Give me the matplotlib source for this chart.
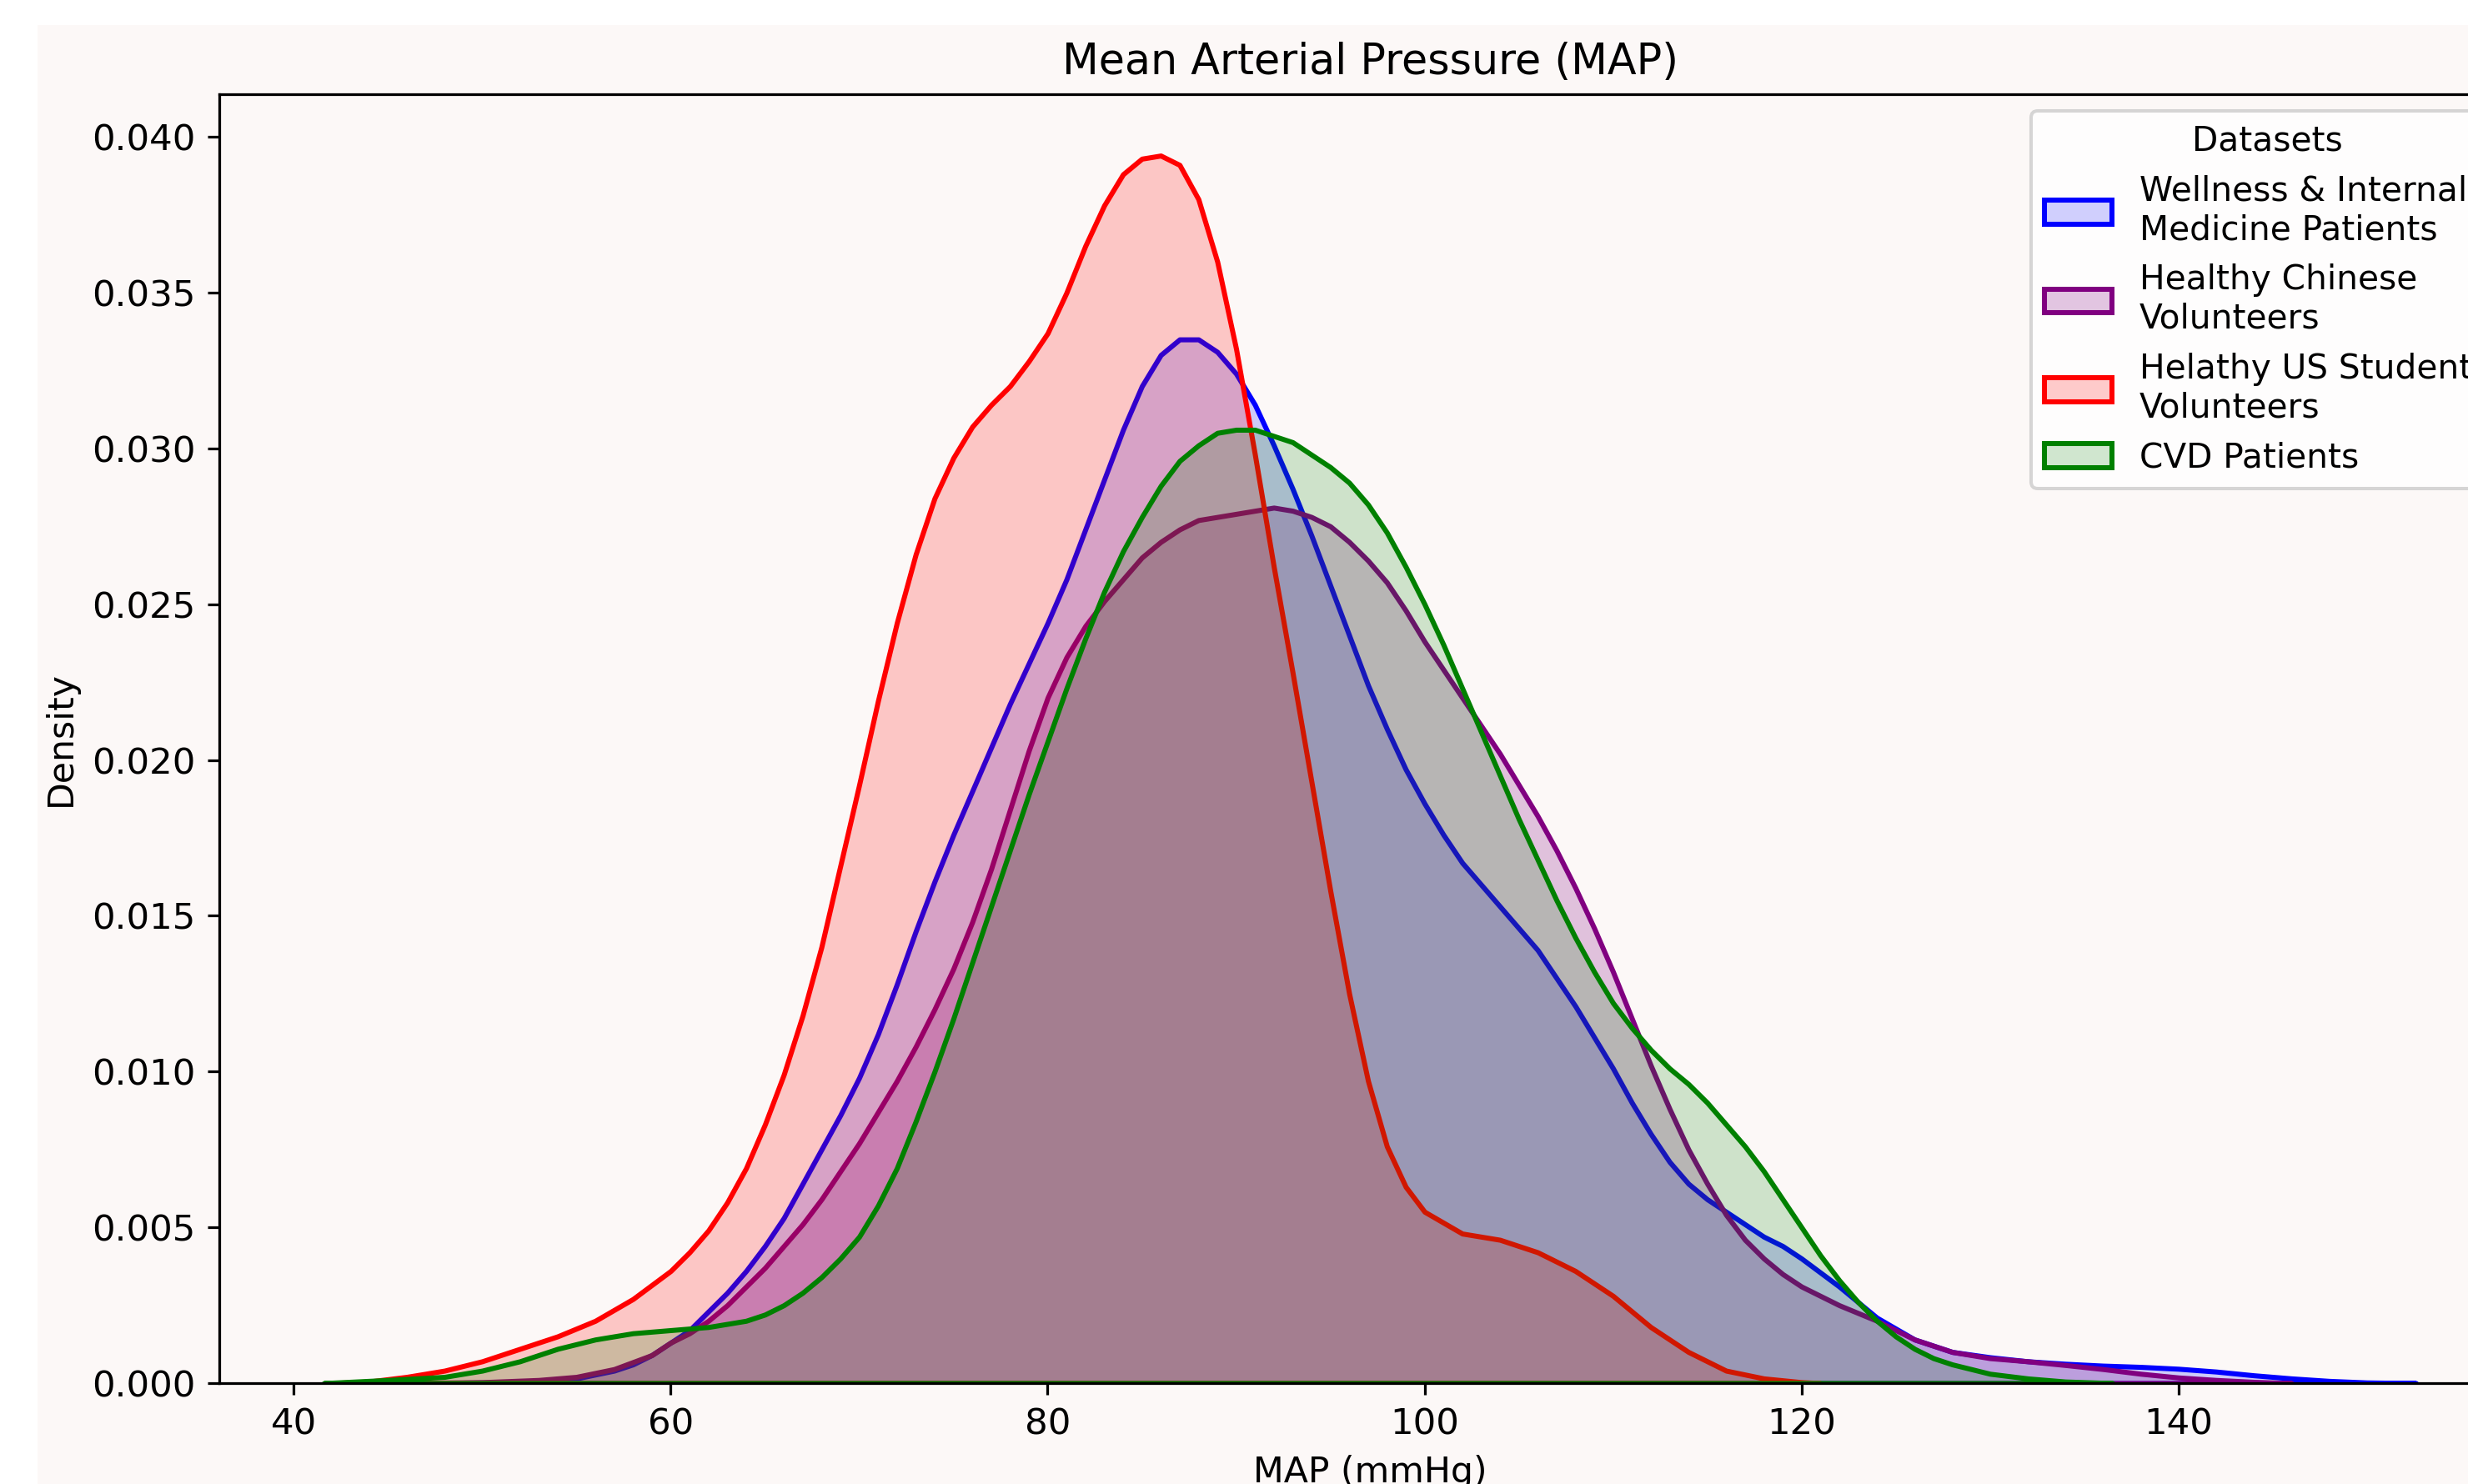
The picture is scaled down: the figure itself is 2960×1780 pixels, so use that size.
import matplotlib
matplotlib.use("Agg")
import matplotlib.pyplot as plt
from matplotlib.patches import Patch, Rectangle
from matplotlib.colors import to_rgba

# density curves (MAP in mmHg, density)
wellness_x = [47, 50, 53, 55, 57, 58, 59, 60, 61, 62, 63, 64, 65, 66, 67, 68, 69, 70, 71, 72, 73, 74, 75,
              76, 77, 78, 79, 80, 81, 82, 83, 84, 85, 86, 87, 88, 89, 90, 91, 92, 93, 94, 95, 96, 97, 98,
              99, 100, 101, 102, 103, 104, 105, 106, 107, 108, 109, 110, 111, 112, 113, 114, 115, 116,
              117, 118, 119, 120, 122, 124, 126, 128, 130, 132, 134, 136, 138, 140, 142, 144, 146, 148,
              150, 152.6]
wellness_y = [0, 0.00002, 0.00006, 0.00015, 0.0004, 0.0006, 0.0009, 0.0013, 0.0017, 0.0023, 0.0029,
              0.0036, 0.0044, 0.0053, 0.0064, 0.0075, 0.0086, 0.0098, 0.0112, 0.0128, 0.0145, 0.0161,
              0.0176, 0.019, 0.0204, 0.0218, 0.0231, 0.0244, 0.0258, 0.0274, 0.029, 0.0306, 0.032,
              0.033, 0.0335, 0.0335, 0.0331, 0.0324, 0.0314, 0.0301, 0.0287, 0.0272, 0.0256, 0.024,
              0.0224, 0.021, 0.0197, 0.0186, 0.0176, 0.0167, 0.016, 0.0153, 0.0146, 0.0139, 0.013,
              0.0121, 0.0111, 0.0101, 0.009, 0.008, 0.0071, 0.0064, 0.0059, 0.0055, 0.0051, 0.0047,
              0.0044, 0.004, 0.0031, 0.0021, 0.0014, 0.001, 0.00083, 0.0007, 0.00062, 0.00056, 0.00052,
              0.00046, 0.00037, 0.00025, 0.00015, 0.00007, 0.00002, 0]

chinese_x = [44, 47, 50, 53, 55, 57, 59, 60, 61, 62, 63, 64, 65, 66, 67, 68, 69, 70, 71, 72, 73, 74, 75,
             76, 77, 78, 79, 80, 81, 82, 83, 84, 85, 86, 87, 88, 89, 90, 91, 92, 93, 94, 95, 96, 97, 98,
             99, 100, 101, 102, 103, 104, 105, 106, 107, 108, 109, 110, 111, 112, 113, 114, 115, 116,
             117, 118, 119, 120, 122, 124, 126, 128, 130, 132, 134, 136, 138, 140, 142, 144, 146]
chinese_y = [0, 0.00001, 0.00003, 0.0001, 0.0002, 0.00045, 0.0009, 0.0013, 0.0016, 0.002, 0.0025,
             0.0031, 0.0037, 0.0044, 0.0051, 0.0059, 0.0068, 0.0077, 0.0087, 0.0097, 0.0108, 0.012,
             0.0133, 0.0148, 0.0165, 0.0184, 0.0203, 0.022, 0.0233, 0.0243, 0.0251, 0.0258, 0.0265,
             0.027, 0.0274, 0.0277, 0.0278, 0.0279, 0.028, 0.0281, 0.028, 0.0278, 0.0275, 0.027,
             0.0264, 0.0257, 0.0248, 0.0238, 0.0229, 0.022, 0.0211, 0.0202, 0.0192, 0.0182, 0.0171,
             0.0159, 0.0146, 0.0132, 0.0117, 0.0102, 0.0088, 0.0075, 0.0064, 0.0054, 0.0046, 0.004,
             0.0035, 0.0031, 0.0025, 0.002, 0.0014, 0.001, 0.0008, 0.0007, 0.00058, 0.00045, 0.0003,
             0.00018, 0.0001, 0.00004, 0]

us_x = [42, 44, 46, 48, 50, 52, 54, 56, 58, 60, 61, 62, 63, 64, 65, 66, 67, 68, 69, 70, 71, 72, 73, 74,
        75, 76, 77, 78, 79, 80, 81, 82, 83, 84, 85, 86, 87, 88, 89, 90, 91, 92, 93, 94, 95, 96, 97, 98,
        99, 100, 102, 104, 106, 108, 110, 112, 114, 116, 118, 120, 121]
us_y = [0, 0.00005, 0.0002, 0.0004, 0.0007, 0.0011, 0.0015, 0.002, 0.0027, 0.0036, 0.0042, 0.0049,
        0.0058, 0.0069, 0.0083, 0.0099, 0.0118, 0.014, 0.0166, 0.0192, 0.0219, 0.0244, 0.0266, 0.0284,
        0.0297, 0.0307, 0.0314, 0.032, 0.0328, 0.0337, 0.035, 0.0365, 0.0378, 0.0388, 0.0393, 0.0394,
        0.0391, 0.038, 0.036, 0.0332, 0.0298, 0.0262, 0.0228, 0.0193, 0.0158, 0.0125, 0.0097, 0.0076,
        0.0063, 0.0055, 0.0048, 0.0046, 0.0042, 0.0036, 0.0028, 0.0018, 0.001, 0.0004, 0.00015,
        0.00003, 0]

cvd_x = [41.6, 45, 48, 50, 52, 54, 56, 58, 60, 62, 64, 65, 66, 67, 68, 69, 70, 71, 72, 73, 74, 75, 76,
         77, 78, 79, 80, 81, 82, 83, 84, 85, 86, 87, 88, 89, 90, 91, 92, 93, 94, 95, 96, 97, 98, 99,
         100, 101, 102, 103, 104, 105, 106, 107, 108, 109, 110, 111, 112, 113, 114, 115, 116, 117,
         118, 119, 120, 121, 122, 123, 124, 125, 126, 127, 128, 130, 132, 134, 136.5]
cvd_y = [0, 0.0001, 0.0002, 0.0004, 0.0007, 0.0011, 0.0014, 0.0016, 0.0017, 0.0018, 0.002, 0.0022,
         0.0025, 0.0029, 0.0034, 0.004, 0.0047, 0.0057, 0.0069, 0.0084, 0.01, 0.0117, 0.0135,
         0.0153, 0.0171, 0.0189, 0.0206, 0.0223, 0.0239, 0.0254, 0.0267, 0.0278, 0.0288, 0.0296,
         0.0301, 0.0305, 0.0306, 0.0306, 0.0304, 0.0302, 0.0298, 0.0294, 0.0289, 0.0282, 0.0273,
         0.0262, 0.025, 0.0237, 0.0223, 0.0209, 0.0195, 0.0181, 0.0168, 0.0155, 0.0143, 0.0132,
         0.0122, 0.0114, 0.0107, 0.0101, 0.0096, 0.009, 0.0083, 0.0076, 0.0068, 0.0059, 0.005,
         0.0041, 0.0033, 0.0026, 0.002, 0.0015, 0.0011, 0.0008, 0.0006, 0.0003, 0.00015, 0.00005, 0]

labels = ["Wellness & Internal\nMedicine Patients", "Healthy Chinese\nVolunteers",
          "Helathy US Students\nVolunteers", "CVD Patients"]
colors = ["blue", "purple", "red", "green"]
alphas = [0.18, 0.22, 0.2, 0.18]
series = [(wellness_x, wellness_y), (chinese_x, chinese_y), (us_x, us_y), (cvd_x, cvd_y)]

bg = "#fcf8f7"

fig = plt.figure(figsize=(2960 / 290, 1780 / 290), dpi=290, facecolor="white")
fig.add_artist(Rectangle((45 / 2960, 0), 1, 1 - 30 / 1780, transform=fig.transFigure,
                         facecolor=bg, edgecolor="none", zorder=-10))
ax = fig.add_axes([263 / 2960, 121 / 1780, 2760 / 2960, 1546 / 1780])
ax.set_facecolor(bg)

for (xs, ys), c, a in zip(series, colors, alphas):
    ax.fill_between(xs, ys, 0, facecolor=to_rgba(c, a), edgecolor=c, linewidth=1.5)

xmin = min(min(s[0]) for s in series)
xmax = max(max(s[0]) for s in series)
pad = (xmax - xmin) * 0.05
ax.set_xlim(xmin - pad, xmax + pad)
ax.set_ylim(0, max(max(s[1]) for s in series) * 1.05)

ax.tick_params(labelsize=10.8)
ax.set_title("Mean Arterial Pressure (MAP)", fontsize=12.6)
ax.set_xlabel("MAP (mmHg)", fontsize=10.6)
ax.set_ylabel("Density", fontsize=10.6)

handles = [Patch(facecolor=to_rgba(c, a), edgecolor=c, linewidth=1.5) for c, a in zip(colors, alphas)]
ax.legend(handles, labels, title="Datasets", loc="upper right", fontsize=10.1, title_fontsize=10.1)

fig.savefig("out.png", dpi=290, facecolor=fig.get_facecolor())
